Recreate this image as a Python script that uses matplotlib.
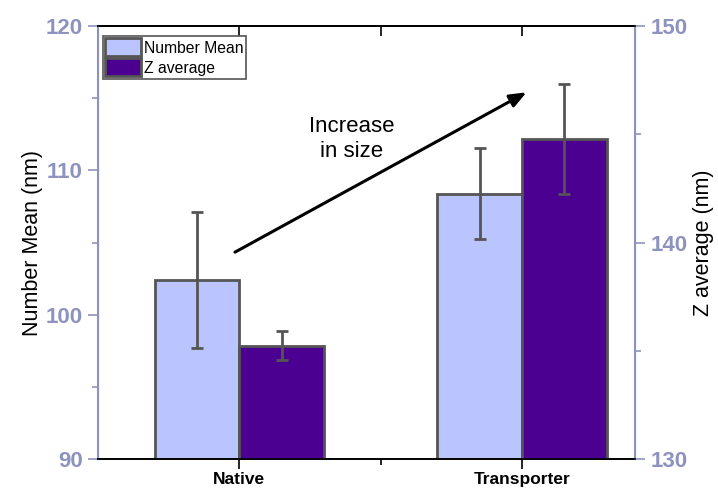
import matplotlib.pyplot as plt
import numpy as np

plt.rcParams['font.family'] = ['Liberation Sans', 'DejaVu Sans']

# Data
samples = ['Native', 'Transporter']
number_mean = [102.4, 108.4]
number_mean_err = [4.7, 3.15]
z_average = [135.25, 144.78]
z_average_err = [0.65, 2.54]
left_ticks = [90, 100, 110, 120]
right_ticks = [130, 140, 150]

light = '#BAC4FF'
dark = '#4B0092'
edge = '#555555'
axcol = '#8D92BF'

x = np.arange(len(samples))
w = 0.3

fig = plt.figure(figsize=(7.18, 4.9), dpi=100)
ax = fig.add_axes([0.1365, 0.0627, 0.7479, 0.8842])
ax2 = ax.twinx()

ekw = dict(ecolor=edge, elinewidth=2, capsize=4, capthick=2)
b1 = ax.bar(x - w / 2, number_mean, w, yerr=number_mean_err, color=light,
            edgecolor=edge, linewidth=2, error_kw=ekw, label='Number Mean', zorder=2)
b2 = ax2.bar(x + w / 2, z_average, w, yerr=z_average_err, color=dark,
             edgecolor=edge, linewidth=2, error_kw=ekw, label='Z average', zorder=2)

ax.set_xlim(-0.5, 1.4)
ax.set_ylim(90, 120)
ax2.set_ylim(130, 150)

ax.set_xticks(x)
ax.set_xticklabels(samples, fontweight='bold', fontsize=12.5)
ax.set_xticks([0.5], minor=True)
ax.tick_params(axis='x', which='both', top=False, direction='out', length=7,
               width=1.2, pad=2)
ax.tick_params(axis='x', which='minor', length=4)

ax.set_yticks(left_ticks, [str(t) for t in left_ticks], fontweight='bold')
ax.set_yticks([95, 105, 115], minor=True)
ax2.set_yticks(right_ticks, [str(t) for t in right_ticks], fontweight='bold')
ax2.set_yticks([135, 145], minor=True)

for a, side in ((ax, 'left'), (ax2, 'right')):
    a.tick_params(axis='y', which='major', colors=axcol, length=7, width=1.2,
                  labelsize=16, pad=4)
    a.tick_params(axis='y', which='minor', colors=axcol, length=4, width=1.2)
    a.spines[side].set_color(axcol)
    a.spines[side].set_linewidth(1.5)
ax2.spines['left'].set_color(axcol)
ax.spines['right'].set_color(axcol)
for a in (ax, ax2):
    a.spines['top'].set_linewidth(1.2)
    a.spines['bottom'].set_linewidth(1.2)

# top ticks point inward, no labels
sec = ax.secondary_xaxis('top')
sec.set_xticks(list(x) + [0.5])
sec.set_xticklabels([])
sec.tick_params(direction='in', length=7, width=1.2)
sec.spines['top'].set_linewidth(1.2)

ax.set_ylabel('Number Mean (nm)', fontsize=15.5, labelpad=2)
ax2.set_ylabel('Z average (nm)', fontsize=15.5, labelpad=4)

leg = ax2.legend(handles=[b1, b2], loc='upper left', fontsize=11.3,
                 bbox_to_anchor=(0.009, 0.977), borderaxespad=0,
                 fancybox=False, edgecolor=edge, framealpha=1,
                 borderpad=0.15, handlelength=2.3,
                 handleheight=1.4, handletextpad=0.2, labelspacing=0.12)
leg.get_frame().set_linewidth(1.2)

ax2.annotate('', xy=(0.798, 0.847), xytext=(0.255, 0.478),
             xycoords='axes fraction', textcoords='axes fraction',
             arrowprops=dict(arrowstyle='-|>,head_length=1.0,head_width=0.4',
                             color='black', lw=2.2, shrinkA=0, shrinkB=0))
ax2.text(0.473, 0.739, 'Increase\nin size', transform=ax2.transAxes,
         ha='center', va='center', fontsize=16, linespacing=1.3)

fig.savefig('out.png', dpi=100)
